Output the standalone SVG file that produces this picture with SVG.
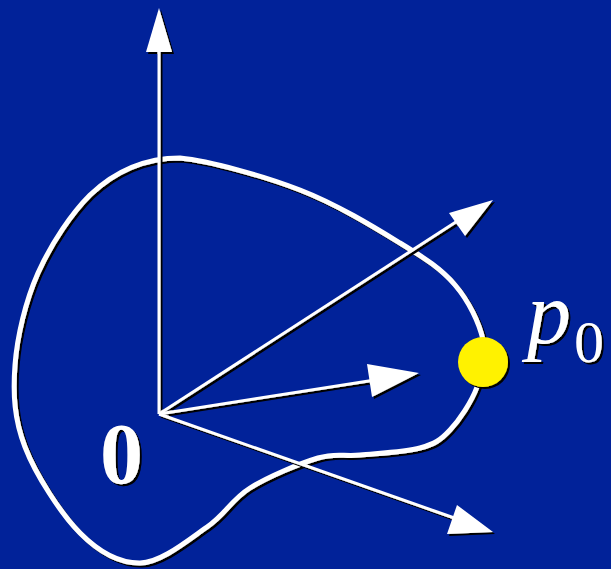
<svg xmlns="http://www.w3.org/2000/svg" width="611" height="569" viewBox="0 0 611 569">
<defs>
<filter id="sh" x="-20%" y="-20%" width="140%" height="140%">
<feDropShadow dx="2" dy="2" stdDeviation="0.6" flood-color="#000" flood-opacity="1"/>
</filter>
</defs>
<style>
.shaft{stroke:#fff;stroke-width:3;fill:none}
.head{fill:#fff}
.curve{stroke:#fff;stroke-width:5;fill:none;stroke-linejoin:round}
.lbl{fill:#fff;font-family:"Liberation Serif","Times New Roman",serif}
</style>
<rect width="611" height="569" fill="#012299"/>
<g id="curve" filter="url(#sh)">
<path class="curve" d="M180,158 C210,161 263.3,175.8 300,190 C336.7,204.2 374.2,227.2 400,243 C425.8,258.8 441.2,268.8 455,285 C468.8,301.2 479.3,323 483,340 C486.7,357 482.5,372 477,387 C471.5,402 459.5,419.8 450,430 C440.5,440.2 435,443.8 420,448 C405,452.2 377,453.3 360,455 C343,456.7 336.3,452.5 318,458 C299.7,463.5 268.5,476.5 250,488 C231.5,499.5 225.3,514.5 207,527 C188.7,539.5 161.2,562.8 140,563 C118.8,563.2 99.2,552.3 80,533 C60.8,513.7 35.8,475 25,447 C14.2,419 12.8,394 15,365 C17.2,336 25.5,301.3 38,273 C52,242 72,213 90,195 C110,176 140,158 180,158 Z"/>
</g>
<g id="connectors" filter="url(#sh)">
<line class="shaft" x1="159" y1="414" x2="159" y2="45"/>
<polygon class="head" points="159,8 146,52 172,52"/>
<line class="shaft" x1="159" y1="414" x2="462" y2="218"/>
<polygon class="head" points="493,200 449,213 465,236"/>
<line class="shaft" x1="159" y1="414" x2="375" y2="380"/>
<polygon class="head" points="419,373 367,364 372,397"/>
<line class="shaft" x1="159" y1="414" x2="460" y2="520"/>
<polygon class="head" points="493,532 457,505 447,534"/>
</g>
<g id="p0" filter="url(#sh)">
<circle cx="483" cy="362" r="25" fill="#fff200"/>
</g>
<g id="label-p0" filter="url(#sh)">
<text class="lbl" x="527" y="343" font-size="88" font-style="italic">p</text>
<text class="lbl" x="574" y="362" font-size="60">0</text>
</g>
<g id="origin" filter="url(#sh)">
<text class="lbl" x="100" y="483" font-size="86" font-weight="bold">0</text>
</g>
</svg>
